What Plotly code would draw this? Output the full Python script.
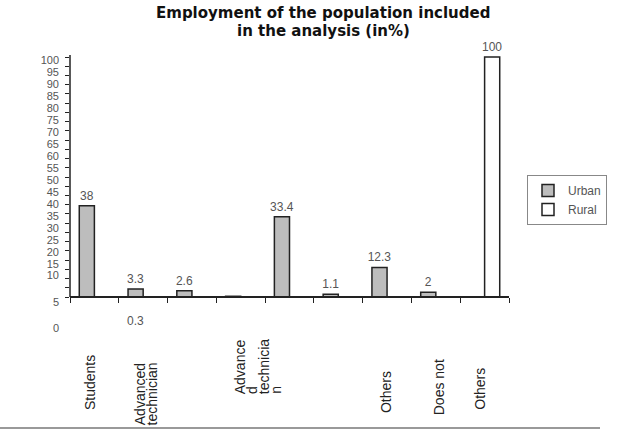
import numpy as np
import plotly.graph_objects as go

# Employment shares (in %), one slot per position on the category axis
slots = list(range(9))
urban = [38, 3.3, 2.6, 0.3, 33.4, 1.1, 12.3, 2, None]
rural = [None, None, None, None, None, None, None, None, 100]
urban_text = ["38", "3.3", "2.6", "", "33.4", "1.1", "12.3", "2", ""]
rural_text = ["", "", "", "", "", "", "", "", "100"]
extra_value_label = "0.3"

title_lines = ["Employment of the population included", "in the analysis (in%)"]

# y tick labels as printed on the chart
y_tick_labels = ["100", "95", "90", "85", "80", "75", "70", "65", "60", "55",
                 "50", "45", "40", "35", "30", "25", "20", "15", "10", "5", "0"]

# category labels (multi-line ones are listed line by line)
x_label_lines = [["Students"], ["Advanced", "technician"],
                 ["Advance", "d", "technicia", "n"], ["Others"], ["Does not"], ["Others"]]

# ---- layout geometry -------------------------------------------------------
W, H = 628, 430
ML, MR, MT, MB = 70, 119, 45, 97
PLOT_W = W - ML - MR
PLOT_H = H - MT - MB
Y_MIN, Y_MAX = -15, 105


def paper_y(px):
    return (H - MB - px) / PLOT_H


def paper_x(px):
    return (px - ML) / PLOT_W


# where each printed y label sits on the value scale
y_tick_pos = [float(l) - 1.25 for l in y_tick_labels[:17]] + [13.8, 9.0, -2.1, -12.9]

# x position (in slots) of each label line and bottom edge (px) of each label
x_label_pos = [[-0.1], [0.94, 1.18], [2.98, 3.23, 3.47, 3.72], [5.98], [7.07], [7.9]]
x_label_bottom = [412, 427, 396, 415, 417, 412]

fig = go.Figure()
fig.add_trace(go.Bar(
    x=slots, y=urban, name="Urban", text=urban_text, textposition="outside",
    marker=dict(color="#bdbdbd", line=dict(color="#222222", width=1.5)),
    textfont=dict(family="Liberation Sans", size=12, color="#555555"),
    constraintext="none", cliponaxis=False,
))
fig.add_trace(go.Bar(
    x=slots, y=rural, name="Rural", text=rural_text, textposition="outside",
    marker=dict(color="white", line=dict(color="#222222", width=1.5)),
    textfont=dict(family="Liberation Sans", size=12, color="#555555"),
    constraintext="none", cliponaxis=False,
))

annotations = []
# two-line bold heading
for line, ypx in zip(title_lines, [13, 31]):
    annotations.append(dict(
        text=line, x=paper_x(323), xref="paper", y=paper_y(ypx), yref="paper",
        xanchor="center", yanchor="middle", showarrow=False,
        font=dict(family="DejaVu Sans", size=15, color="#111111", weight="bold"),
    ))
for lines, xs, bottom in zip(x_label_lines, x_label_pos, x_label_bottom):
    for line, xp in zip(lines, xs):
        annotations.append(dict(
            text=line, x=xp, xref="x", y=paper_y(bottom), yref="paper",
            xanchor="center", yanchor="bottom", textangle=-90, showarrow=False,
            font=dict(family="Liberation Sans", size=14, color="#222222"),
        ))
annotations.append(dict(
    text=extra_value_label, x=0.85, xref="x", y=-10, yref="y",
    showarrow=False, font=dict(family="Liberation Sans", size=12, color="#555555"),
))

fig.update_layout(
    width=W, height=H,
    margin=dict(l=ML, r=MR, t=MT, b=MB),
    paper_bgcolor="white", plot_bgcolor="white",
    barmode="group", bargap=0.38, bargroupgap=0.0,
    xaxis=dict(
        range=[-0.5, 8.5], anchor="free", position=(0 - Y_MIN) / (Y_MAX - Y_MIN),
        showline=True, linecolor="#222222", linewidth=1.5,
        tickmode="array", tickvals=[s - 0.5 for s in slots] + [8.5],
        ticks="outside", ticklen=5, tickcolor="#222222",
        showticklabels=False, showgrid=False, zeroline=False,
    ),
    yaxis=dict(
        range=[Y_MIN, Y_MAX], showline=False, showgrid=False, zeroline=False,
        tickmode="array", tickvals=y_tick_pos, ticktext=y_tick_labels,
        ticks="", ticklabelstandoff=10,
        tickfont=dict(family="Liberation Sans", size=11, color="#555555"),
        minor=dict(tickmode="array", tickvals=list(np.linspace(0, 100, 27)),
                   ticks="outside", ticklen=4, tickcolor="#222222", tickwidth=1,
                   showgrid=False),
    ),
    legend=dict(
        x=paper_x(527), xanchor="left", y=paper_y(175), yanchor="top",
        bordercolor="#888888", borderwidth=1, bgcolor="white",
        font=dict(family="Liberation Sans", size=12, color="#555555"),
        tracegroupgap=0, itemwidth=30,
    ),
    showlegend=True,
    annotations=annotations,
    shapes=[
        # vertical value axis, from baseline to the top of the scale
        dict(type="line", xref="paper", yref="y", x0=0, x1=0, y0=0, y1=100.8,
             line=dict(color="#222222", width=1.5)),
        # grey rule along the bottom of the figure
        dict(type="line", xref="paper", yref="paper",
             x0=paper_x(0), x1=paper_x(600),
             y0=paper_y(428), y1=paper_y(428), line=dict(color="#999999", width=2)),
    ],
)

fig.write_html("out.html")
